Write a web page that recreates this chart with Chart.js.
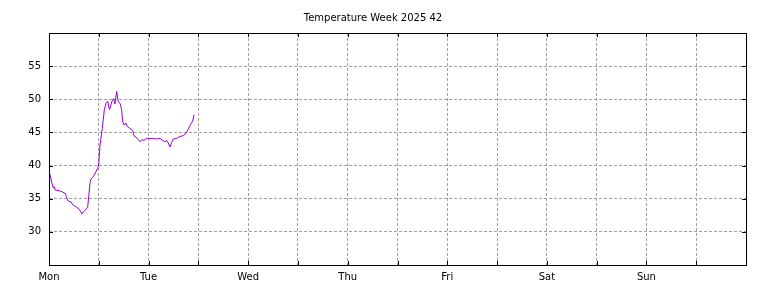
<!DOCTYPE html>
<html>
<head>
<meta charset="utf-8">
<script src="https://cdn.jsdelivr.net/npm/chart.js@4.4.0/dist/chart.umd.min.js"></script>
<style>
  html, body { margin: 0; padding: 0; background: #fff; }
  #temp_chart { display: block; }
</style>
</head>
<body>
<canvas id="temp_chart" width="768" height="288"></canvas>
<script>
// hours since Monday 00:00
const hours = [0.24, 0.72, 1.04, 1.28, 1.52, 2.48, 3.30, 3.93, 4.10, 4.51, 5.30, 5.71, 6.51, 7.30,
    7.71, 7.95, 8.27, 8.92, 9.33, 9.57, 9.88, 10.12, 10.53, 10.92, 11.33, 11.74, 11.98,
    12.29, 12.85, 13.33, 13.74, 14.15, 14.53, 14.7, 15.11, 15.35, 15.55, 15.9, 16.32, 16.7, 17.11,
    17.52, 17.76, 18.08, 18.56, 18.87, 19.52, 20.17, 20.49, 20.97, 21.52, 21.93, 22.34, 22.9,
    23.55, 25.14, 25.96, 26.75, 27.4, 27.96, 28.37, 28.75, 29.16, 29.57, 29.96, 30.78, 31.57,
    32.37, 33.02, 33.57, 34.15, 34.63, 34.95];
const temps = [38.7, 37.3, 36.6, 36.8, 36.3, 36.2, 36.0, 35.8, 35.5, 34.7, 34.5, 34.1, 33.8, 33.4,
    33.0, 32.7, 33.0, 33.4, 33.8, 35.3, 37.3, 38.0, 38.2, 38.6, 39.1, 39.6, 40.1,
    43.1, 45.6, 48.4, 49.4, 49.7, 48.5, 48.6, 49.6, 49.9, 50.1, 49.3, 51.2, 49.6, 49.4,
    48.4, 46.6, 46.1, 46.4, 45.9, 45.6, 45.3, 44.5, 44.3, 43.9, 43.6, 43.9, 43.8,
    44.1, 44.1, 44.0, 44.1, 43.8, 43.6, 43.8, 43.4, 42.8, 43.5, 44.0, 44.1, 44.4,
    44.5, 44.9, 45.5, 46.2, 46.7, 47.7];
const dayLabels = ['Mon', 'Tue', 'Wed', 'Thu', 'Fri', 'Sat', 'Sun'];
const yLabels = [30, 35, 40, 45, 50, 55];

const FONT = 'DejaVu Sans';

// gnuplot style frame + inner tick marks
const framePlugin = {
    id: 'frame',
    afterDraw(chart) {
        const ctx = chart.ctx;
        const a = chart.chartArea;
        const xs = chart.scales.x;
        const ys = chart.scales.y;
        ctx.save();
        ctx.strokeStyle = '#000';
        ctx.lineWidth = 1;
        xs.ticks.forEach(function (t) {
            const px = Math.round(xs.getPixelForValue(t.value)) + 0.5;
            ctx.beginPath();
            ctx.moveTo(px, a.bottom); ctx.lineTo(px, a.bottom - 4);
            ctx.moveTo(px, a.top); ctx.lineTo(px, a.top + 4);
            ctx.stroke();
        });
        ys.ticks.forEach(function (t) {
            const py = Math.round(ys.getPixelForValue(t.value)) + 0.5;
            ctx.beginPath();
            ctx.moveTo(a.left, py); ctx.lineTo(a.left + 4, py);
            ctx.moveTo(a.right, py); ctx.lineTo(a.right - 4, py);
            ctx.stroke();
        });
        ctx.strokeRect(Math.round(a.left) + 0.5, Math.round(a.top) + 0.5,
            Math.round(a.right - a.left), Math.round(a.bottom - a.top));
        ctx.restore();
    }
};

const points = hours.map(function (h, i) { return { x: h, y: temps[i] }; });

new Chart(document.getElementById('temp_chart').getContext('2d'), {
    type: 'line',
    data: {
        datasets: [{
            data: points,
            borderColor: '#9400d3',
            borderWidth: 1,
            pointRadius: 0,
            tension: 0,
            fill: false
        }]
    },
    options: {
        responsive: false,
        animation: false,
        layout: { padding: { left: 0, right: 22, top: 0, bottom: 0 } },
        plugins: {
            legend: { display: false },
            tooltip: { enabled: false },
            title: {
                display: true,
                text: 'Temperature Week 2025 42',
                color: '#000',
                font: { family: FONT, size: 10, weight: 'normal' },
                padding: { top: 12, bottom: 9 }
            }
        },
        scales: {
            x: {
                type: 'linear',
                min: 0,
                max: 168,
                afterFit: function (scale) { scale.height = 23; },
                border: { display: false, dash: [3, 2] },
                grid: { color: '#a0a0a0', drawTicks: false },
                ticks: {
                    stepSize: 12,
                    autoSkip: false,
                    maxRotation: 0,
                    padding: 6,
                    color: '#000',
                    font: { family: FONT, size: 10 },
                    callback: function (v) {
                        return (v % 24 === 0 && v < 168) ? dayLabels[v / 24] : '';
                    }
                }
            },
            y: {
                type: 'linear',
                min: 25,
                max: 60,
                afterFit: function (scale) { scale.width = 49; },
                border: { display: false, dash: [3, 2] },
                grid: { color: '#a0a0a0', drawTicks: false },
                ticks: {
                    stepSize: 5,
                    padding: 8,
                    color: '#000',
                    font: { family: FONT, size: 10 },
                    callback: function (v) {
                        return yLabels.indexOf(v) >= 0 ? String(v) : '';
                    }
                }
            }
        }
    },
    plugins: [framePlugin]
});
</script>
</body>
</html>
